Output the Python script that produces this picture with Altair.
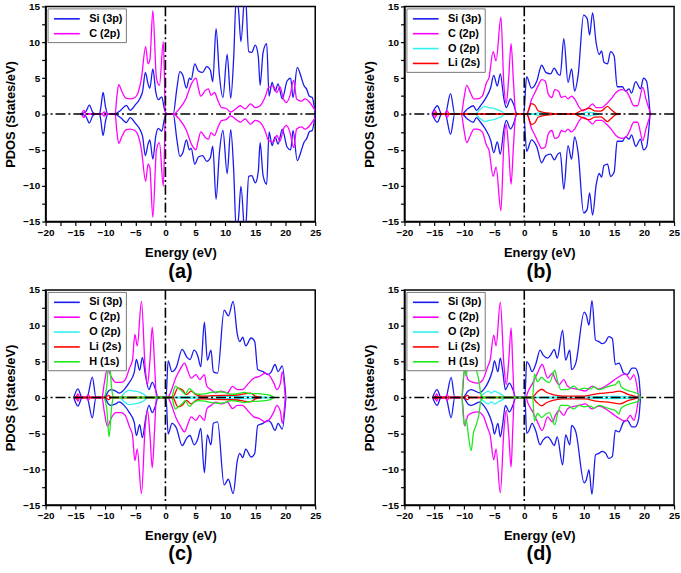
import altair as alt
import pandas as pd

# ---------------- data (positive spin half; the negative half is its mirror) ----------------
NAMES = ["Si (3p)", "C (2p)", "O (2p)", "Li (2s)", "H (1s)"]
COLORS = ["#1a1aee", "#ff00ff", "#33f0f0", "#ff0000", "#1ee81e"]

A_SI = [(-14.2,0),(-13.3,0.3),(-12.7,1.25),(-12.1,0.2),(-11.6,0),(-11.0,0),(-10.8,0.8),(-10.4,3.0),(-10.0,1.0),(-9.6,0),
        (-8.5,0),(-7.5,0.5),(-6.5,1.2),(-5.9,0.5),(-5.0,1.3),(-4.3,2.1),(-3.8,3.2),(-3.35,5.8),(-2.9,4.2),(-2.6,3.6),(-2.1,6.3),
        (-1.6,3.0),(-1.2,2.0),(-0.6,2.4),(-0.2,0.8),(0.2,0),(1.3,0),(1.9,3.5),(2.4,5.9),(2.9,5.4),(3.5,3.6),(4.0,5.0),(4.3,4.8),
        (4.9,7.0),(5.5,6.0),(6.2,5.8),(6.9,6.6),(7.5,6.1),(7.9,4.5),(8.45,11.9),(9.0,5.5),(9.6,2.3),(10.3,8.3),(10.9,2.2),(11.4,8.0),
        (11.8,16.0),(12.2,14.5),(12.6,10.1),(13.3,17.0),(13.9,8.7),(14.4,8.6),(15.0,9.6),(15.5,8.0),(15.8,4.0),(16.3,8.6),(16.9,9.8),
        (17.3,2.5),(17.8,4.4),(18.3,3.2),(18.8,4.2),(19.5,2.1),(20.3,4.6),(20.9,5.0),(21.3,2.3),(22.0,6.5),(22.6,5.3),(23.1,4.0),
        (23.6,3.4),(24.0,2.5),(24.5,2.3),(25.0,0)]
A_C = [(-14.0,0),(-13.6,0.5),(-13.2,0),(-10.6,0),(-10.2,0.3),(-9.8,0),(-8.4,0),(-8.1,2.5),(-7.8,4.1),(-7.3,3.2),(-6.6,2.2),
       (-5.9,2.1),(-5.1,2.3),(-4.6,2.9),(-4.0,5.0),(-3.3,9.4),(-2.9,7.0),(-2.6,7.5),(-2.1,14.4),(-1.5,5.0),(-1.0,4.0),(-0.35,10.1),
       (0.0,0.3),(0.3,0),(1.3,0),(2.4,0.8),(3.4,2.1),(4.4,4.3),(5.1,5.0),(5.5,3.6),(5.9,2.5),(6.7,3.3),(7.2,3.5),(7.6,2.6),(8.2,3.0),
       (8.7,2.0),(9.4,0.9),(10.1,0.8),(10.9,0.25),(11.7,0.7),(12.5,1.15),(13.3,0.7),(14.2,1.4),(15.0,0.9),(15.8,1.15),(16.7,2.5),
       (17.2,3.7),(18.0,3.9),(18.6,3.0),(19.1,3.8),(19.7,2.1),(20.2,1.6),(20.8,2.6),(21.4,4.7),(21.9,2.1),(22.7,1.8),(23.3,2.1),
       (24.1,1.6),(24.6,1.0),(25.0,0.5)]

B_SI = [(-15.4,0),(-14.5,1.15),(-13.8,0),(-13.2,0),(-12.3,2.85),(-11.6,0),(-10.4,0),(-9.5,0.7),(-8.5,1.15),(-8.0,0.5),(-7.3,1.15),
        (-6.5,2.1),(-5.6,3.7),(-5.1,5.4),(-4.5,3.9),(-4.0,5.6),(-3.4,2.1),(-3.0,0.9),(-2.3,2.1),(-1.8,1.4),(-1.2,0),(-0.1,0),(0.4,5.2),
        (1.2,3.6),(2.1,4.6),(2.9,6.8),(3.6,5.8),(4.4,5.6),(5.0,6.4),(5.6,5.6),(6.0,5.4),(6.6,10.5),(7.3,4.4),(7.9,6.3),(8.4,3.2),
        (9.0,5.5),(9.9,13.8),(10.5,13.3),(10.9,11.0),(11.4,14.1),(12.0,9.9),(12.5,8.3),(12.9,8.8),(13.3,7.2),(13.9,7.0),(14.4,8.7),
        (15.0,8.1),(15.5,3.8),(16.4,3.8),(16.9,3.2),(17.5,3.5),(17.9,2.9),(18.6,4.5),(19.4,3.5),(19.9,5.0),(20.4,4.6),(21.0,0)]
B_C = [(-15.3,0),(-14.9,0.5),(-14.5,0),(-13.3,0),(-12.9,0.45),(-12.5,0),(-10.5,0),(-10.1,2.0),(-9.6,4.0),(-9.0,3.0),(-8.4,2.1),
       (-7.85,2.1),(-7.0,2.5),(-6.3,4.4),(-5.9,5.0),(-5.2,8.7),(-4.7,7.4),(-3.9,13.5),(-3.4,4.0),(-3.0,1.5),(-2.6,5.0),(-2.2,9.8),
       (-1.8,4.4),(-1.4,0),(0.4,0),(1.25,2.1),(1.8,3.0),(2.4,4.1),(2.9,4.8),(3.5,4.6),(4.0,2.8),(4.6,2.3),(5.1,3.4),(5.7,3.2),
       (6.2,2.3),(6.8,2.5),(7.3,2.1),(7.9,2.5),(8.4,2.1),(9.2,0.9),(9.8,0.45),(10.6,0.8),(11.4,1.4),(12.0,0.9),(12.9,0.9),(13.7,1.4),
       (14.5,2.1),(15.3,3.0),(16.2,3.4),(17.0,3.2),(17.5,2.5),(18.3,1.15),(18.9,1.15),(19.8,3.7),(20.3,2.1),(21.1,0)]
B_O = [(-8.1,0),(-7.3,0.7),(-6.6,1.05),(-5.9,0.9),(-5.1,0.8),(-4.5,0.6),(-3.7,0.3),(-3.3,0),(1.5,0),(2.3,0.15),(3.5,0.1),
       (4.5,0),(9.5,0),(10.5,0.25),(11.5,0.15),(12.5,0)]
B_LI = [(-15.2,0),(-14.8,0.15),(-14.4,0),(0.2,0),(0.5,0.1),(1.2,1.45),(1.8,1.2),(2.3,0.45),(3.4,0.2),(4.5,0.1),(5.5,0),(8.5,0),
        (8.9,0.2),(10.0,0.6),(10.85,0.8),(11.7,0.45),(12.8,0.4),(13.9,1.05),(14.4,0.7),(15.3,0.1),(16.1,0)]

C_SI = [(-15.3,0),(-14.6,1.2),(-13.9,0),(-13.1,0),(-12.2,2.85),(-11.6,0),(-10.2,0),(-9.5,0.9),(-9.1,1.1),(-8.3,0.9),(-7.7,0.6),
        (-6.9,1.1),(-6.1,2.0),(-5.2,3.5),(-4.85,5.3),(-4.3,3.8),(-3.85,5.6),(-3.3,2.9),(-2.75,1.1),(-2.2,2.1),(-1.65,1.1),(-1.25,0),
        (0.1,0),(0.45,5.1),(1.1,3.6),(1.8,4.2),(2.8,6.7),(3.6,5.6),(4.1,5.3),(4.8,6.6),(5.4,5.8),(5.9,4.3),(6.5,10.5),(7.0,5.2),
        (7.6,6.6),(8.0,3.6),(8.7,3.4),(9.8,12.2),(10.5,11.4),(11.3,13.4),(12.0,8.8),(12.4,7.8),(12.9,8.4),(13.4,7.2),(14.3,8.3),
        (14.9,7.8),(15.4,3.9),(16.3,3.6),(17.1,3.2),(17.6,3.5),(18.3,4.6),(18.8,3.6),(19.5,4.4),(20.1,0)]
C_C = [(-14.9,0),(-14.6,0.5),(-14.3,0),(-13.2,0),(-12.9,0.4),(-12.5,0),(-10.6,0),(-10.2,2.0),(-9.7,4.0),(-9.0,2.8),(-8.3,2.1),
       (-7.4,2.1),(-6.7,2.5),(-6.0,4.1),(-5.5,5.2),(-5.1,8.8),(-4.7,7.2),(-4.0,13.4),(-3.4,4.4),(-3.0,1.8),(-2.6,5.0),(-2.2,9.8),
       (-1.8,4.4),(-1.5,0),(0.4,0),(0.7,0.4),(1.8,2.9),(2.5,4.0),(3.2,4.8),(3.7,3.8),(4.3,2.7),(5.1,3.2),(5.7,2.5),(6.5,3.2),
       (6.9,1.6),(7.6,1.1),(8.4,0.65),(9.25,0.9),(10.35,0.65),(11.2,1.55),(12.0,1.1),(12.8,1.1),(13.9,2.0),(14.75,2.7),(15.6,2.9),
       (16.7,3.4),(17.2,3.2),(18.1,2.0),(18.6,1.1),(19.2,2.0),(19.5,3.6),(20.0,0)]
C_O = [(-7.5,0),(-6.8,0.65),(-6.1,1.0),(-5.2,0.9),(-4.5,0.8),(-3.7,0.5),(-2.75,0),(1.0,0),(2.5,0.1),(5.0,0.1),(8.0,0.15),
       (12.0,0.15),(16.0,0.1),(18.0,0)]
C_LI = [(-15.2,0),(-14.8,0.2),(-14.4,0),(-10.0,0),(-9.5,0.3),(-9.0,0),(1.2,0),(2.1,1.3),(2.9,1.0),(3.5,0.4),(4.3,0.9),(5.1,0.4),
        (6.0,0.2),(8.0,0.25),(10.0,0.3),(12.0,0.35),(13.1,0.5),(14.2,0.6),(15.0,0.2),(16.0,0)]
C_H = [(-10.2,0),(-9.8,1.5),(-9.4,5.5),(-9.0,1.5),(-8.7,0),(1.0,0),(1.65,1.6),(2.2,1.25),(2.75,0.9),(3.3,0.45),(4.0,1.25),
       (4.7,0.7),(5.5,0.45),(6.5,0.5),(7.7,0.7),(8.8,0.8),(9.9,0.7),(11.0,0.45),(12.1,0.55),(13.2,0.7),(14.3,0.55),(15.4,0.55),
       (16.5,0.45),(17.6,0.25),(18.2,0)]

D_SI = [(-15.3,0),(-14.55,1.1),(-13.9,0),(-13.1,0),(-12.2,2.8),(-11.6,0),(-10.2,0),(-9.4,0.9),(-8.85,1.1),(-8.2,0.9),(-7.5,0.65),
        (-6.6,1.3),(-6.1,2.0),(-5.3,3.8),(-4.98,5.1),(-4.4,3.6),(-4.0,5.5),(-3.6,3.7),(-3.15,1.1),(-2.5,2.0),(-1.9,1.1),(-1.4,0),
        (0.1,0),(0.4,5.0),(0.8,4.6),(1.3,3.6),(1.9,4.6),(2.65,6.6),(3.15,5.9),(3.9,5.5),(4.4,5.9),(5.0,6.7),(5.5,5.5),(6.4,9.4),
        (6.9,5.2),(7.6,6.6),(7.9,3.9),(8.6,4.8),(10.0,11.9),(10.35,11.5),(10.8,10.1),(11.3,13.5),(11.9,8.0),(12.45,7.8),(13.0,7.5),
        (13.6,7.8),(14.1,8.5),(14.7,8.2),(15.2,4.6),(15.8,4.8),(16.6,3.4),(17.2,3.2),(18.0,4.1),(18.5,4.1),(19.1,2.9),(19.4,0)]
D_C = [(-14.9,0),(-14.6,0.5),(-14.3,0),(-13.2,0),(-12.9,0.4),(-12.5,0),(-10.4,0),(-9.96,4.0),(-9.4,2.5),(-8.6,2.1),(-7.75,2.0),
       (-6.9,2.5),(-6.1,4.3),(-5.7,5.2),(-5.1,8.7),(-4.7,7.2),(-4.0,13.3),(-3.4,4.6),(-3.0,1.8),(-2.6,5.0),(-2.2,9.7),(-1.9,4.0),
       (-1.66,0),(0.3,0),(0.55,0.65),(1.4,2.0),(2.2,3.4),(3.0,4.6),(3.9,2.7),(4.7,3.4),(5.2,2.5),(5.8,1.8),(6.6,2.5),(7.2,1.6),
       (8.0,1.3),(9.1,1.1),(10.2,0.9),(11.35,1.6),(12.45,1.2),(13.6,1.6),(14.7,2.25),(15.8,2.9),(16.9,3.3),(17.7,2.5),(18.3,3.2),
       (18.8,1.6),(19.1,0)]
D_O = [(-7.4,0),(-6.8,0.5),(-6.0,0.9),(-5.5,0.6),(-5.0,0.9),(-4.3,0.6),(-3.6,0.3),(-3.0,0),(1.5,0),(5.0,0.1),(10.0,0.1),
       (15.0,0.15),(18.8,0.1),(19.2,0)]
D_LI = [(-15.2,0),(-14.8,0.2),(-14.4,0),(-10.0,0),(-9.5,0.3),(-9.0,0),(1.3,0),(2.1,0.7),(2.9,1.15),(3.75,0.7),(4.6,0.45),
        (6.4,0.2),(8.0,0.2),(10.0,0.2),(12.3,0.55),(14.5,0.7),(15.9,0.9),(17.3,0.45),(18.7,0.1),(19.0,0)]
D_H = [(-10.4,0),(-10.0,3.9),(-9.7,3.0),(-9.3,5.5),(-8.85,7.4),(-8.5,5.0),(-8.0,3.8),(-7.6,2.5),(-7.2,0.3),(-6.8,0),
       (1.4,0),(1.7,3.3),(2.2,2.2),(2.9,2.8),(3.6,2.3),(4.2,2.1),(5.1,3.8),(5.5,2.5),(6.1,1.1),(7.2,1.1),(8.3,1.6),(9.1,1.1),
       (10.0,1.3),(11.1,1.2),(11.6,1.5),(12.45,1.1),(13.6,1.4),(14.7,1.7),(15.2,1.8),(15.8,2.3),(16.1,1.6),(16.9,1.1),(18.0,0.8),
       (19.1,0.45),(19.4,0)]

X_TICKS = [-20, -17.5, -15, -12.5, -10, -7.5, -5, -2.5, 0, 2.5, 5, 7.5, 10, 12.5, 15, 17.5, 20, 22.5, 25]
Y_TICKS = [-15, -12.5, -10, -7.5, -5, -2.5, 0, 2.5, 5, 7.5, 10, 12.5, 15]

FONT = "Liberation Sans"
DASH = [10, 3, 2, 3]


def build_df(series):
    rows = []
    for name, pts in series:
        for e, v in pts:
            rows.append({"series": name, "spin": "up", "E": e, "V": v})
            rows.append({"series": name, "spin": "down", "E": e, "V": -v})
    return pd.DataFrame(rows)


def panel(series, label, label_offset):
    names = [n for n, _ in series]
    cols = [COLORS[NAMES.index(n)] for n in names]
    df = build_df(series)
    x_axis = alt.Axis(values=X_TICKS, labelExpr="datum.value % 5 == 0 ? datum.label : ''",
                      title="Energy (eV)", titlePadding=9)
    y_axis = alt.Axis(values=Y_TICKS, labelExpr="datum.value % 5 == 0 ? datum.label : ''",
                      title="PDOS (States/eV)", titlePadding=5)
    xs = alt.Scale(domain=[-20, 25], nice=False)
    ys = alt.Scale(domain=[-15, 15], nice=False)
    lines = alt.Chart(df).mark_line(strokeWidth=1.3, clip=True, interpolate="monotone").encode(
        x=alt.X("E:Q", scale=xs, axis=x_axis),
        y=alt.Y("V:Q", scale=ys, axis=y_axis),
        color=alt.Color("series:N", scale=alt.Scale(domain=names, range=cols),
                        legend=alt.Legend(orient="top-left", title=None, symbolType="M-2,0L2,0",
                                          symbolSize=169, symbolStrokeWidth=1.6, labelFont=FONT,
                                          labelFontSize=11, labelFontWeight="bold", labelColor="black",
                                          strokeColor="#777777", fillColor="white", padding=3,
                                          offset=2, rowPadding=2, cornerRadius=0, symbolOffset=9,
                                          labelOffset=15)),
        detail="spin:N",
    )
    zero = pd.DataFrame({"z": [0]})
    hline = alt.Chart(zero).mark_rule(color="black", strokeDash=DASH, strokeWidth=1.6).encode(
        y=alt.Y("z:Q", scale=ys, axis=y_axis))
    vline = alt.Chart(zero).mark_rule(color="black", strokeDash=DASH, strokeWidth=1.6).encode(
        x=alt.X("z:Q", scale=xs, axis=x_axis))
    return alt.layer(lines, hline, vline).properties(
        width=272, height=217,
        title=alt.TitleParams(label, orient="bottom", fontSize=20, fontWeight="bold", font=FONT,
                              offset=label_offset, color="black"),
    )


pa = panel([("Si (3p)", A_SI), ("C (2p)", A_C)], "(a)", 3)
pb = panel([("Si (3p)", B_SI), ("C (2p)", B_C), ("O (2p)", B_O), ("Li (2s)", B_LI)], "(b)", 3)
pc = panel([("Si (3p)", C_SI), ("C (2p)", C_C), ("O (2p)", C_O), ("Li (2s)", C_LI), ("H (1s)", C_H)], "(c)", 1)
pd_ = panel([("Si (3p)", D_SI), ("C (2p)", D_C), ("O (2p)", D_O), ("Li (2s)", D_LI), ("H (1s)", D_H)], "(d)", 1)

top = alt.hconcat(pa, pb, spacing=41).resolve_scale(color="independent")
bottom = alt.hconcat(pc, pd_, spacing=41).resolve_scale(color="independent")

chart = alt.vconcat(top, bottom, spacing=1).resolve_scale(color="independent").properties(
    padding={"left": 4, "top": -2, "right": 0, "bottom": 0}, background="white"
).configure_view(
    stroke="black", strokeWidth=1.5
).configure_axis(
    grid=False, domainColor="black", domainWidth=1.5, tickColor="black", tickWidth=1.2, tickSize=4,
    labelFont=FONT, labelFontSize=10, labelFontWeight="bold", labelColor="black", labelPadding=2,
    titleFont=FONT, titleFontSize=13, titleFontWeight="bold", titleColor="black",
    labelFlush=False, labelOverlap=False
)

chart.save("out.html", embed_options={"renderer": "svg", "actions": False})
